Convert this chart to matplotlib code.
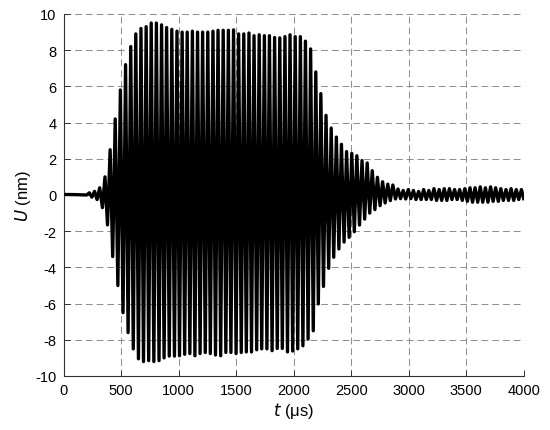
import matplotlib
matplotlib.use("Agg")
import matplotlib.pyplot as plt

plt.rcParams['font.family'] = ['Liberation Sans', 'DejaVu Sans']
plt.rcParams['axes.unicode_minus'] = False

# pre-signal (quiet part)
t_pre = [0, 100, 200, 223, 245, 268, 290, 313]
u_pre = [0.03, 0.02, 0.0, 0.12, -0.12, 0.2, -0.25, 0.4]

# positive peaks of the oscillation (us, nm)
t_up = [359, 404, 448, 493, 538, 583, 627, 672, 717, 761, 806, 851, 895, 940,
        985, 1030, 1074, 1119, 1164, 1208, 1253, 1298, 1342, 1387, 1432, 1477,
        1521, 1566, 1611, 1655, 1700, 1745, 1789, 1834, 1879, 1924, 1968, 2013,
        2058, 2102, 2147, 2192, 2236, 2281, 2326, 2371, 2415, 2460, 2505, 2549,
        2594, 2639, 2683, 2728, 2773, 2818, 2862, 2907, 2952, 2996, 3041, 3086,
        3130, 3175, 3220, 3265, 3309, 3354, 3399, 3443, 3488, 3533, 3577, 3622,
        3667, 3712, 3756, 3801, 3846, 3890, 3935, 3980]
u_up = [1.0, 2.5, 4.2, 5.8, 7.2, 8.2, 8.9, 9.2, 9.3, 9.5, 9.5, 9.4, 9.25, 9.15,
        9.05, 9.0, 9.0, 9.05, 9.0, 9.0, 9.0, 9.05, 9.1, 9.1, 9.1, 9.12,
        8.9, 8.9, 8.95, 8.8, 8.85, 8.8, 8.8, 8.7, 8.68, 8.75, 8.85, 8.75,
        8.75, 8.5, 8.07, 6.8, 5.6, 4.4, 3.7, 3.2, 2.8, 2.4, 2.3, 2.17,
        1.9, 1.77, 1.34, 0.98, 0.73, 0.6, 0.55, 0.33, 0.25, 0.3, 0.25, 0.2,
        0.3, 0.25, 0.35, 0.3, 0.35, 0.35, 0.3, 0.3, 0.35, 0.4, 0.4, 0.45,
        0.4, 0.45, 0.4, 0.35, 0.3, 0.35, 0.3, 0.3]

# negative peaks of the oscillation (us, nm)
t_dn = [337, 381, 426, 471, 516, 560, 605, 650, 694, 739, 784, 829, 873, 918,
        963, 1007, 1052, 1097, 1141, 1186, 1231, 1275, 1320, 1365, 1410, 1454,
        1499, 1544, 1588, 1633, 1678, 1722, 1767, 1812, 1857, 1901, 1946, 1991,
        2035, 2080, 2125, 2170, 2214, 2259, 2304, 2348, 2393, 2438, 2482, 2527,
        2572, 2617, 2661, 2706, 2751, 2795, 2840, 2885, 2929, 2974, 3019, 3063,
        3108, 3153, 3197, 3242, 3287, 3332, 3376, 3421, 3466, 3510, 3555, 3600,
        3644, 3689, 3734, 3779, 3823, 3868, 3913, 3957, 4000]
u_dn = [-0.7, -1.65, -3.4, -5.0, -6.5, -7.6, -8.5, -9.05, -9.2, -9.15, -9.2, -9.15, -9.0, -8.9,
        -8.9, -8.88, -8.8, -8.76, -8.88, -8.76, -8.7, -8.76, -8.84, -8.88, -8.7, -8.7,
        -8.76, -8.7, -8.67, -8.67, -8.55, -8.5, -8.5, -8.6, -8.48, -8.48, -8.67, -8.62,
        -8.5, -8.33, -7.96, -7.5, -6.02, -5.05, -4.05, -3.44, -2.98, -2.6, -2.34, -2.03,
        -1.66, -1.33, -1.0, -0.81, -0.59, -0.44, -0.31, -0.22, -0.2, -0.22, -0.2, -0.25,
        -0.25, -0.25, -0.25, -0.3, -0.3, -0.3, -0.25, -0.25, -0.3, -0.35, -0.4, -0.4,
        -0.4, -0.4, -0.35, -0.35, -0.3, -0.3, -0.3, -0.25, -0.2]

xticks = [0, 500, 1000, 1500, 2000, 2500, 3000, 3500, 4000]
yticks = [-10, -8, -6, -4, -2, 0, 2, 4, 6, 8, 10]

pts = sorted(zip(t_pre + t_up + t_dn, u_pre + u_up + u_dn))
t_all = [p[0] for p in pts]
u_all = [p[1] for p in pts]

fig = plt.figure(figsize=(5.5, 4.31), dpi=100)
ax = fig.add_axes([0.1158, 0.1253, 0.8364, 0.8399])

ax.plot(t_all, u_all, color='black', lw=2.4, solid_joinstyle='round', zorder=3)

ax.set_xlim(0, 4000)
ax.set_ylim(-10, 10)
ax.set_xticks(xticks)
ax.set_yticks(yticks)
ax.grid(True, color='#8c8c8c', lw=0.7, linestyle=(0, (7, 4)))
for s in ['top', 'right']:
    ax.spines[s].set_visible(False)
for s in ['left', 'bottom']:
    ax.spines[s].set_color('#333333')
    ax.spines[s].set_linewidth(0.8)
ax.tick_params(direction='in', length=4, width=0.7, color='#333333',
               labelsize=10.5, pad=5)
ax.set_xlabel(r'$\it{t}$ (μs)', fontsize=12, labelpad=2)
ax.set_ylabel(r'$\it{U}$ (nm)', fontsize=12, labelpad=2)

fig.savefig('out.png', dpi=100)
